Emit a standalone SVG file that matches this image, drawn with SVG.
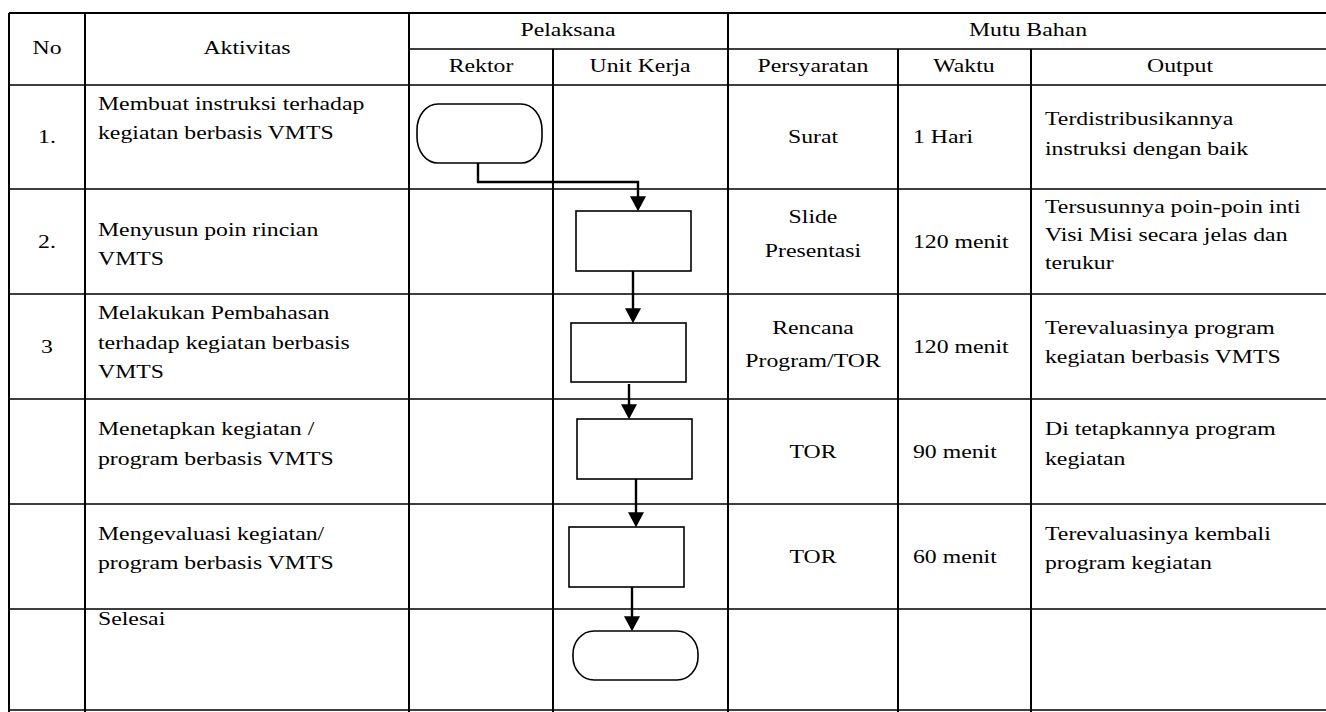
<svg xmlns="http://www.w3.org/2000/svg" width="1326" height="712" viewBox="0 0 1326 712">
<style>
.t{font-family:"Liberation Serif","Times New Roman",serif;font-size:18px;fill:#000}
.c{text-anchor:middle}
.grid{stroke:#000;stroke-width:2;fill:none}
.thin{stroke:#000;stroke-width:1.6;fill:none}
.shape{fill:#fff;stroke:#000;stroke-width:1.6}
.conn{fill:none;stroke:#000;stroke-width:2.4}
</style>
<defs>
<marker id="ah" markerUnits="userSpaceOnUse" markerWidth="16" markerHeight="16" viewBox="0 0 14 15" refX="10" refY="7.5" orient="auto">
<path d="M0,0 L14,7.5 L0,15 z" fill="#000"/>
</marker>
</defs>
<rect width="1326" height="712" fill="#fff"/>
<g id="table">
<path class="grid" d="M9,13 H1326 M9,13 V712 M85,13 V712 M409,13 V712 M553,49 V712 M728,13 V712 M898,49 V712 M1031,49 V712"/>
<path class="thin" d="M409,49 H1326 M9,85 H1326 M9,189 H1326 M9,294 H1326 M9,399 H1326 M9,504 H1326 M9,609 H1326 M9,710 H1326"/>
</g>
<g id="header">
<text class="t c" transform="translate(47,54) scale(1.32,1)">No</text>
<text class="t c" transform="translate(247,54) scale(1.32,1)">Aktivitas</text>
<text class="t c" transform="translate(568,36) scale(1.32,1)">Pelaksana</text>
<text class="t c" transform="translate(1028,36) scale(1.32,1)">Mutu Bahan</text>
<text class="t c" transform="translate(481,72) scale(1.32,1)">Rektor</text>
<text class="t c" transform="translate(640,72) scale(1.32,1)">Unit Kerja</text>
<text class="t c" transform="translate(813,72) scale(1.32,1)">Persyaratan</text>
<text class="t c" transform="translate(964,72) scale(1.32,1)">Waktu</text>
<text class="t c" transform="translate(1180,72) scale(1.32,1)">Output</text>
</g>
<g id="row1">
<text class="t c" transform="translate(47,143) scale(1.32,1)">1.</text>
<text class="t" transform="translate(98,110) scale(1.32,1)">Membuat instruksi terhadap</text>
<text class="t" transform="translate(98,139) scale(1.32,1)">kegiatan berbasis VMTS</text>
<text class="t c" transform="translate(813,143) scale(1.32,1)">Surat</text>
<text class="t" transform="translate(913,143) scale(1.32,1)">1 Hari</text>
<text class="t" transform="translate(1045,125) scale(1.32,1)">Terdistribusikannya</text>
<text class="t" transform="translate(1045,155) scale(1.32,1)">instruksi dengan baik</text>
</g>
<g id="row2">
<text class="t c" transform="translate(47,248) scale(1.32,1)">2.</text>
<text class="t" transform="translate(98,236) scale(1.32,1)">Menyusun poin rincian</text>
<text class="t" transform="translate(98,265) scale(1.32,1)">VMTS</text>
<text class="t c" transform="translate(813,223) scale(1.32,1)">Slide</text>
<text class="t c" transform="translate(813,257) scale(1.32,1)">Presentasi</text>
<text class="t" transform="translate(913,248) scale(1.32,1)">120 menit</text>
<text class="t" transform="translate(1045,213) scale(1.32,1)">Tersusunnya poin-poin inti</text>
<text class="t" transform="translate(1045,241) scale(1.32,1)">Visi Misi secara jelas dan</text>
<text class="t" transform="translate(1045,269) scale(1.32,1)">terukur</text>
</g>
<g id="row3">
<text class="t c" transform="translate(47,353) scale(1.32,1)">3</text>
<text class="t" transform="translate(98,319) scale(1.32,1)">Melakukan Pembahasan</text>
<text class="t" transform="translate(98,349) scale(1.32,1)">terhadap kegiatan berbasis</text>
<text class="t" transform="translate(98,378) scale(1.32,1)">VMTS</text>
<text class="t c" transform="translate(813,334) scale(1.32,1)">Rencana</text>
<text class="t c" transform="translate(813,367) scale(1.32,1)">Program/TOR</text>
<text class="t" transform="translate(913,353) scale(1.32,1)">120 menit</text>
<text class="t" transform="translate(1045,334) scale(1.32,1)">Terevaluasinya program</text>
<text class="t" transform="translate(1045,363) scale(1.32,1)">kegiatan berbasis VMTS</text>
</g>
<g id="row4">
<text class="t" transform="translate(98,435) scale(1.32,1)">Menetapkan kegiatan /</text>
<text class="t" transform="translate(98,465) scale(1.32,1)">program berbasis VMTS</text>
<text class="t c" transform="translate(813,458) scale(1.32,1)">TOR</text>
<text class="t" transform="translate(913,458) scale(1.32,1)">90 menit</text>
<text class="t" transform="translate(1045,435) scale(1.32,1)">Di tetapkannya program</text>
<text class="t" transform="translate(1045,465) scale(1.32,1)">kegiatan</text>
</g>
<g id="row5">
<text class="t" transform="translate(98,540) scale(1.32,1)">Mengevaluasi kegiatan/</text>
<text class="t" transform="translate(98,569) scale(1.32,1)">program berbasis VMTS</text>
<text class="t c" transform="translate(813,563) scale(1.32,1)">TOR</text>
<text class="t" transform="translate(913,563) scale(1.32,1)">60 menit</text>
<text class="t" transform="translate(1045,540) scale(1.32,1)">Terevaluasinya kembali</text>
<text class="t" transform="translate(1045,569) scale(1.32,1)">program kegiatan</text>
</g>
<g id="row6">
<text class="t" transform="translate(98,625) scale(1.32,1)">Selesai</text>
</g>
<g id="start"><rect class="shape" x="417" y="104" width="125" height="59" rx="21" ry="26"/></g>
<g id="step2"><rect class="shape" x="576" y="211" width="115" height="60"/></g>
<g id="step3"><rect class="shape" x="571" y="323" width="115" height="59"/></g>
<g id="step4"><rect class="shape" x="577" y="419" width="115" height="60"/></g>
<g id="step5"><rect class="shape" x="569" y="527" width="115" height="60"/></g>
<g id="end"><rect class="shape" x="573" y="631" width="125" height="49" rx="21" ry="23"/></g>
<g id="connectors">
<path class="conn" d="M478,163 V182 H638 V207" marker-end="url(#ah)"/>
<path class="conn" d="M633,271 V319" marker-end="url(#ah)"/>
<path class="conn" d="M629,384 V415" marker-end="url(#ah)"/>
<path class="conn" d="M636,479 V523" marker-end="url(#ah)"/>
<path class="conn" d="M632,587 V627" marker-end="url(#ah)"/>
</g>
</svg>
